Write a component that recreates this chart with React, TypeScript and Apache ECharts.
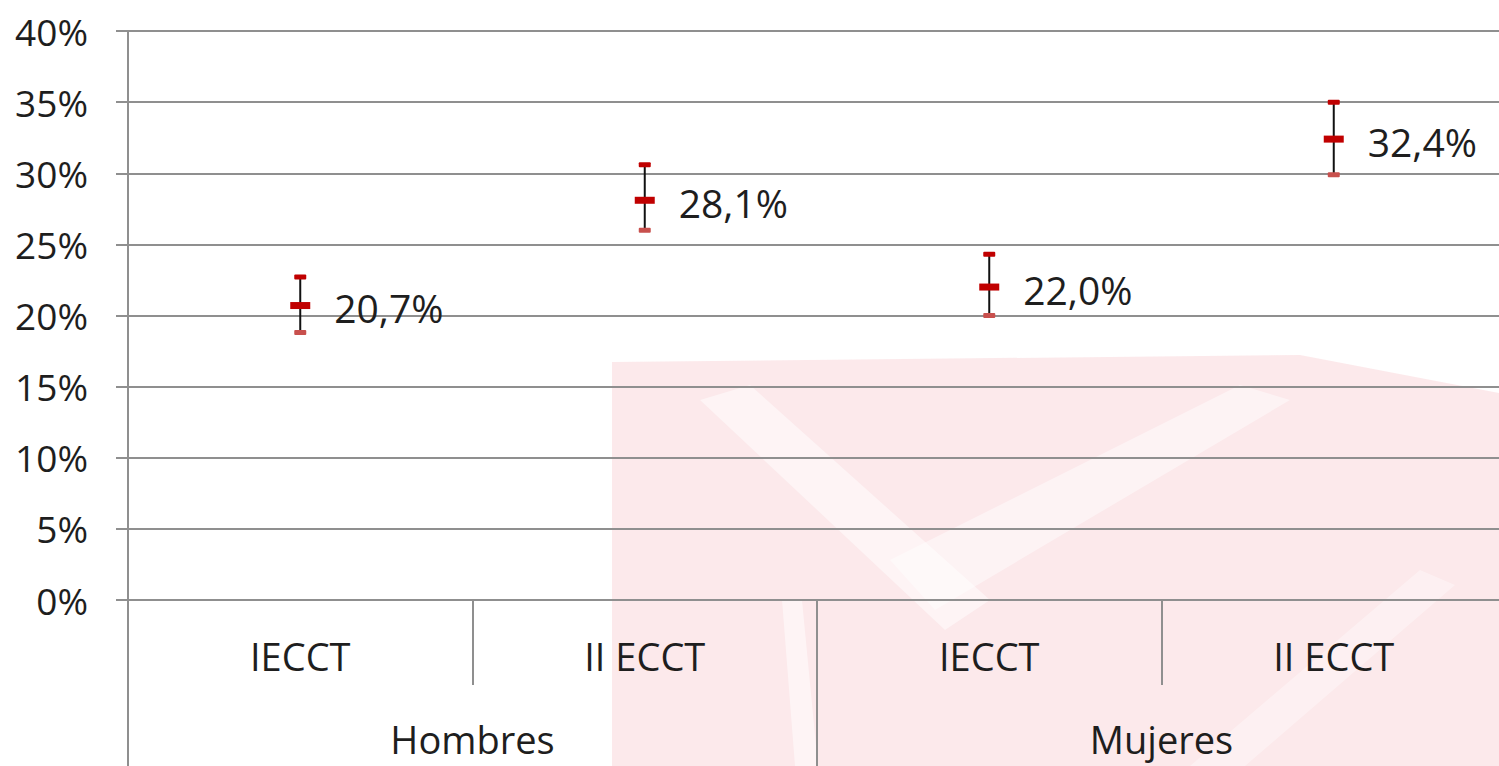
import React, { useEffect, useRef } from "react";
import * as echarts from "echarts";

const categories = ["IECCT", "II ECCT", "IECCT", "II ECCT"];
const groups = ["Hombres", "Mujeres"];
const means = [20.7, 28.1, 22.0, 32.4];
const lower = [18.8, 26.0, 20.0, 29.9];
const upper = [22.7, 30.6, 24.3, 35.0];
const yTicks = { min: 0, max: 40, interval: 5 };

const FONT = "'Open Sans', 'Noto Sans', sans-serif";
const GRID_COLOR = "#8f8f8f";
const TEXT = "#1e1e1e";

export default function App() {
  const ref = useRef<HTMLDivElement>(null);
  useEffect(() => {
    if (!ref.current) return;
    const chart = echarts.init(ref.current, undefined, { renderer: "svg" });
    const errData = categories.map((_, i) => [i, means[i], lower[i], upper[i]]);
    chart.setOption({
      animation: false,
      backgroundColor: "#ffffff",
      textStyle: { fontFamily: FONT },
      graphic: [
        {
          type: "polygon",
          z: -10,
          silent: true,
          shape: { points: [[612, 362], [1300, 355], [1510, 395], [1510, 766], [612, 766]] },
          style: { fill: "#fbdfe2", opacity: 0.7 },
        },
        {
          type: "polygon",
          z: -9,
          silent: true,
          shape: { points: [[700, 400], [750, 385], [990, 600], [945, 630]] },
          style: { fill: "#ffffff", opacity: 0.5 },
        },
        {
          type: "polygon",
          z: -9,
          silent: true,
          shape: { points: [[890, 560], [1240, 385], [1290, 400], [935, 610]] },
          style: { fill: "#ffffff", opacity: 0.45 },
        },
        {
          type: "polygon",
          z: -9,
          silent: true,
          shape: { points: [[782, 600], [802, 600], [818, 766], [795, 766]] },
          style: { fill: "#ffffff", opacity: 0.5 },
        },
        {
          type: "polygon",
          z: -9,
          silent: true,
          shape: { points: [[1190, 766], [1420, 570], [1455, 585], [1245, 766]] },
          style: { fill: "#ffffff", opacity: 0.35 },
        },
      ],
      grid: { left: 128, top: 31, right: 4, bottom: 166, containLabel: false },
      xAxis: [
        {
          type: "category",
          data: categories,
          position: "bottom",
          axisLine: { show: true, lineStyle: { color: GRID_COLOR, width: 2 } },
          axisTick: { show: true, length: 85, alignWithLabel: false, lineStyle: { color: GRID_COLOR, width: 2 } },
          axisLabel: { color: TEXT, fontSize: 38, fontFamily: FONT, margin: 37, interval: 0 },
          splitLine: { show: false },
        },
        {
          type: "category",
          data: groups,
          position: "bottom",
          offset: 85,
          axisLine: { show: false },
          axisTick: { show: true, length: 81, lineStyle: { color: GRID_COLOR, width: 2 } },
          axisLabel: { color: TEXT, fontSize: 38, fontFamily: FONT, margin: 35, interval: 0 },
          splitLine: { show: false },
        },
      ],
      yAxis: {
        type: "value",
        min: yTicks.min,
        max: yTicks.max,
        interval: yTicks.interval,
        axisLine: { show: true, lineStyle: { color: GRID_COLOR, width: 2 } },
        axisTick: { show: true, length: 12, lineStyle: { color: GRID_COLOR, width: 2 } },
        axisLabel: {
          color: TEXT,
          fontSize: 37,
          fontFamily: FONT,
          margin: 40,
          formatter: "{value}%",
        },
        splitLine: { show: true, lineStyle: { color: GRID_COLOR, width: 2 } },
      },
      series: [
        {
          type: "custom",
          xAxisIndex: 0,
          data: errData,
          encode: { x: 0, y: [1, 2, 3] },
          z: 3,
          renderItem: (params: any, api: any) => {
            const x = api.value(0);
            const lo = api.coord([x, api.value(2)]);
            const hi = api.coord([x, api.value(3)]);
            return {
              type: "group",
              children: [
                {
                  type: "line",
                  shape: { x1: lo[0], y1: lo[1], x2: hi[0], y2: hi[1] },
                  style: { stroke: "#111", lineWidth: 2 },
                },
                {
                  type: "rect",
                  shape: { x: hi[0] - 6, y: hi[1] - 2.5, width: 12, height: 5, r: 1 },
                  style: { fill: "#c00000" },
                },
                {
                  type: "rect",
                  shape: { x: lo[0] - 6, y: lo[1] - 2.5, width: 12, height: 5, r: 1 },
                  style: { fill: "#c8504d" },
                },
              ],
            };
          },
        },
        {
          type: "scatter",
          xAxisIndex: 0,
          data: means,
          symbol: "rect",
          symbolSize: [20, 7],
          itemStyle: { color: "#c00000", opacity: 1 },
          z: 4,
          label: {
            show: true,
            position: "right",
            distance: 24,
            color: TEXT,
            fontSize: 39,
            fontFamily: FONT,
            offset: [0, 2],
            formatter: (p: any) => p.value.toFixed(1).replace(".", ",") + "%",
          },
        },
      ],
    });
    return () => chart.dispose();
  }, []);
  return (
    <div style={{ position: "fixed", left: 0, top: 0, width: 1499, height: 766, overflow: "hidden" }}>
      <div ref={ref} style={{ width: 1510, height: 766 }} />
    </div>
  );
}
